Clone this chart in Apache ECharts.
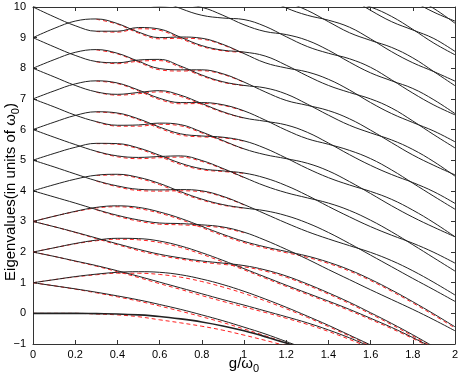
<!DOCTYPE html>
<html>
<head>
<meta charset="utf-8">
<script src="https://cdn.jsdelivr.net/npm/echarts@6/dist/echarts.min.js"></script>
<style>
  html, body { margin: 0; padding: 0; background: #fff; }
  #chart { width: 463px; height: 379px; }
</style>
</head>
<body>
<div id="chart"></div>
<script>
// coupling values g/w0 where the levels were read
var gVals = [0, 0.1, 0.2, 0.3, 0.4, 0.5, 0.6, 0.7, 0.8, 0.9, 1.0, 1.1, 1.2, 1.3, 1.4, 1.5, 1.6, 1.7, 1.8, 1.9, 2.0];

// black solid levels (null = outside the frame)
var ground = [0, 0, 0, -0.01, -0.02, -0.05, -0.10, -0.18, -0.28, -0.41, -0.57, -0.76, -0.97, -1.21, null, null, null, null, null, null, null];
var p0Up = [1, 1.10, 1.20, 1.28, 1.34, 1.36, 1.34, 1.26, 1.12, 0.94, 0.72, 0.47, 0.20, -0.09, -0.39, -0.71, -1.03, null, null, null, null];
var p0Dn = [1, 0.90, 0.80, 0.69, 0.57, 0.44, 0.29, 0.13, -0.05, -0.24, -0.45, -0.67, -0.92, -1.18, null, null, null, null, null, null, null];
var p1Up = [2, 2.14, 2.28, 2.39, 2.45, 2.44, 2.36, 2.20, 1.98, 1.73, 1.46, 1.19, 0.92, 0.66, 0.40, 0.13, -0.16, -0.46, -0.79, -1.14, null];
var p1Dn = [2, 1.86, 1.71, 1.56, 1.39, 1.21, 1.02, 0.83, 0.64, 0.45, 0.27, 0.08, -0.11, -0.31, -0.54, -0.80, -1.09, null, null, null, null];
var p2Up = [3, 3.17, 3.33, 3.46, 3.51, 3.46, 3.31, 3.10, 2.84, 2.58, 2.35, 2.17, 2.02, 1.87, 1.67, 1.42, 1.11, 0.76, 0.38, -0.02, -0.44];
var p2Dn = [3, 2.83, 2.65, 2.46, 2.27, 2.09, 1.93, 1.81, 1.71, 1.64, 1.56, 1.42, 1.22, 0.96, 0.67, 0.36, 0.02, -0.33, -0.70, -1.09, -1.48];
var p3Up = [4, 4.20, 4.38, 4.51, 4.54, 4.44, 4.24, 3.97, 3.73, 3.55, 3.44, 3.35, 3.19, 2.95, 2.64, 2.28, 1.90, 1.52, 1.14, 0.77, 0.39];
var p3Dn = [4, 3.80, 3.60, 3.39, 3.20, 3.05, 2.95, 2.93, 2.89, 2.82, 2.65, 2.39, 2.09, 1.77, 1.43, 1.10, 0.77, 0.45, 0.13, -0.21, -0.57];
var p4Up = [5, 5.22, 5.42, 5.55, 5.54, 5.40, 5.16, 4.90, 4.72, 4.65, 4.58, 4.42, 4.17, 3.85, 3.49, 3.15, 2.83, 2.55, 2.29, 1.99, 1.64];
var p4Dn = [5, 4.78, 4.55, 4.33, 4.16, 4.05, 4.03, 4.04, 4.00, 3.82, 3.55, 3.25, 2.95, 2.67, 2.43, 2.21, 1.99, 1.72, 1.39, 1.01, 0.60];
var p5Up = [6, 6.24, 6.46, 6.58, 6.54, 6.35, 6.08, 5.86, 5.79, 5.75, 5.63, 5.39, 5.07, 4.73, 4.43, 4.19, 3.98, 3.72, 3.37, 2.96, 2.50];
var p5Dn = [6, 5.75, 5.51, 5.29, 5.14, 5.09, 5.12, 5.14, 4.99, 4.73, 4.44, 4.16, 3.94, 3.77, 3.60, 3.36, 3.04, 2.66, 2.24, 1.81, 1.38];
var p6Up = [7, 7.26, 7.49, 7.59, 7.52, 7.29, 7.02, 6.88, 6.88, 6.81, 6.61, 6.31, 5.98, 5.70, 5.52, 5.32, 5.05, 4.68, 4.25, 3.82, 3.40];
var p6Dn = [7, 6.74, 6.47, 6.26, 6.14, 6.15, 6.21, 6.16, 5.92, 5.64, 5.37, 5.18, 5.05, 4.90, 4.65, 4.30, 3.91, 3.51, 3.14, 2.81, 2.50];
var p7Up = [8, 8.28, 8.52, 8.61, 8.49, 8.23, 7.99, 7.95, 7.95, 7.82, 7.55, 7.23, 6.95, 6.79, 6.62, 6.35, 5.98, 5.57, 5.17, 4.83, 4.52];
var p7Dn = [8, 7.72, 7.44, 7.23, 7.15, 7.21, 7.27, 7.12, 6.85, 6.58, 6.38, 6.27, 6.15, 5.91, 5.56, 5.18, 4.83, 4.53, 4.27, 3.97, 3.59];
var p8Up = [9, 9.30, 9.54, 9.61, 9.46, 9.18, 9.00, 9.02, 8.98, 8.78, 8.48, 8.18, 8.01, 7.88, 7.64, 7.29, 6.88, 6.52, 6.23, 5.95, 5.60];
var p8Dn = [9, 8.70, 8.42, 8.22, 8.18, 8.27, 8.29, 8.07, 7.78, 7.56, 7.44, 7.36, 7.16, 6.83, 6.47, 6.14, 5.89, 5.66, 5.35, 4.95, 4.48];
var p9Up = [10, 10.31, 10.56, 10.61, 10.42, 10.14, 10.03, 10.07, 9.99, 9.73, 9.42, 9.20, 9.10, 8.91, 8.59, 8.20, 7.85, 7.59, 7.34, 6.97, 6.52];
var p9Dn = [10, 9.68, 9.39, 9.21, 9.21, 9.33, 9.28, 9.01, 8.74, 8.59, 8.53, 8.40, 8.10, 7.75, 7.44, 7.21, 7.00, 6.70, 6.28, 5.83, 5.40];
var p10Up = [null, null, null, null, null, null, null, null, null, null, 10.39, 10.27, 10.15, 9.89, 9.52, 9.16, 8.91, 8.68, 8.34, 7.89, 7.43];
var p10Dn = [null, null, null, null, null, null, 10.24, 9.95, 9.73, 9.64, 9.59, 9.37, 9.03, 8.71, 8.49, 8.31, 8.03, 7.62, 7.19, 6.80, 6.48];
var p11Up = [null, null, null, null, null, null, null, null, null, null, null, null, null, 10.83, 10.46, 10.20, 10.00, 9.69, 9.27, 8.82, 8.44];
var p11Dn = [null, null, null, null, null, null, null, null, null, null, null, 10.31, 9.97, 9.73, 9.57, 9.34, 8.96, 8.54, 8.18, 7.89, 7.58];
var p12Up = [null, null, null, null, null, null, null, null, null, null, null, null, null, null, null, null, null, 10.64, 10.20, 9.83, 9.54];
var p12Dn = [null, null, null, null, null, null, null, null, null, null, null, null, null, null, 10.63, 10.30, 9.89, 9.52, 9.25, 8.97, 8.55];
var p13Dn = [null, null, null, null, null, null, null, null, null, null, null, null, null, null, null, null, 10.85, 10.58, 10.33, 9.95, 9.47];

// red dashed levels, where they part from the black ones
var rGround = [0, 0, 0, -0.02, -0.05, -0.11, -0.21, -0.31, -0.42, -0.55, -0.71, -0.88, -1.06, null, null, null, null, null, null, null, null];
var rP0Up = [1, 1.10, 1.19, 1.26, 1.31, 1.31, 1.27, 1.18, 1.04, 0.86, 0.65, 0.41, 0.15, -0.13, -0.43, -0.74, -1.06, null, null, null, null];
var rP0Dn = [1, 0.90, 0.79, 0.67, 0.54, 0.40, 0.24, 0.07, -0.11, -0.30, -0.51, -0.73, -0.97, -1.23, null, null, null, null, null, null, null];
var rP1Up = [2, 2.14, 2.27, 2.37, 2.42, 2.40, 2.31, 2.15, 1.93, 1.68, 1.42, 1.15, 0.88, 0.62, 0.36, 0.09, -0.20, -0.50, -0.82, -1.17, null];
var rP1Dn = [2, 1.86, 1.70, 1.54, 1.36, 1.17, 0.97, 0.78, 0.58, 0.39, 0.21, 0.03, -0.16, -0.36, -0.59, -0.85, -1.13, null, null, null, null];
var rP2Up = [3, 3.17, 3.32, 3.44, 3.48, 3.42, 3.27, 3.06, 2.80, 2.54, 2.31, 2.13, 1.98, 1.83, 1.63, 1.38, 1.07, 0.72, 0.34, -0.06, -0.48];
var rP2Dn = [3, 2.83, 2.64, 2.44, 2.24, 2.05, 1.89, 1.77, 1.67, 1.60, 1.52, 1.38, 1.18, 0.92, 0.63, 0.32, -0.02, -0.37, -0.74, -1.13, null];
// red pieces near the knots of the upper levels (g = 0.3 .. 1.0)
var rP3Up = [null, null, null, 4.50, 4.52, 4.41, 4.20, 3.93, 3.70, 3.53, 3.43, null, null, null, null, null, null, null, null, null, null];
var rP3Dn = [null, null, null, 3.38, 3.17, 3.01, 2.91, 2.89, 2.85, 2.79, 2.63, null, null, null, null, null, null, null, null, null, null];
var rP4Up = [null, null, null, 5.54, 5.52, 5.37, 5.12, 4.86, 4.69, 4.63, 4.57, null, null, null, null, null, null, null, null, null, null];
var rP4Dn = [null, null, null, 4.32, 4.13, 4.01, 3.99, 4.00, 3.97, 3.80, 3.54, null, null, null, null, null, null, null, null, null, null];
var rP5Up = [null, null, null, 6.57, 6.52, 6.32, 6.04, 5.82, 5.76, 5.73, 5.62, null, null, null, null, null, null, null, null, null, null];
var rP5Dn = [null, null, null, 5.28, 5.11, 5.05, 5.08, 5.10, 4.96, 4.71, 4.43, null, null, null, null, null, null, null, null, null, null];
var rP6Up = [null, null, null, 7.58, 7.50, 7.26, 6.98, 6.84, 6.85, 6.79, 6.60, null, null, null, null, null, null, null, null, null, null];
var rP6Dn = [null, null, null, 6.25, 6.11, 6.11, 6.17, 6.12, 5.89, 5.62, 5.36, null, null, null, null, null, null, null, null, null, null];
var rP7Up = [null, null, null, 8.60, 8.47, 8.20, 7.95, 7.91, 7.92, 7.80, 7.54, null, null, null, null, null, null, null, null, null, null];
var rP7Dn = [null, null, null, 7.22, 7.12, 7.17, 7.23, 7.08, 6.82, 6.56, 6.37, null, null, null, null, null, null, null, null, null, null];
var rP8Up = [null, null, null, 9.60, 9.44, 9.15, 8.96, 8.98, 8.95, 8.76, 8.47, null, null, null, null, null, null, null, null, null, null];
var rP8Dn = [null, null, null, 8.21, 8.15, 8.23, 8.25, 8.03, 7.75, 7.54, 7.43, null, null, null, null, null, null, null, null, null, null];
var rP9Dn = [null, null, null, 9.20, 9.18, 9.29, 9.24, 8.97, 8.71, 8.57, 8.52, null, null, null, null, null, null, null, null, null, null];

var blackLevels = [ground, p0Up, p0Dn, p1Up, p1Dn, p2Up, p2Dn, p3Up, p3Dn, p4Up, p4Dn, p5Up, p5Dn,
  p6Up, p6Dn, p7Up, p7Dn, p8Up, p8Dn, p9Up, p9Dn, p10Up, p10Dn, p11Up, p11Dn, p12Up, p12Dn, p13Dn];
var redLevels = [rGround, rP0Up, rP0Dn, rP1Up, rP1Dn, rP2Up, rP2Dn, rP3Up, rP3Dn, rP4Up, rP4Dn,
  rP5Up, rP5Dn, rP6Up, rP6Dn, rP7Up, rP7Dn, rP8Up, rP8Dn, rP9Dn];

function toPairs(arr) {
  var out = [];
  for (var i = 0; i < arr.length; i++) {
    if (arr[i] !== null) out.push([gVals[i], arr[i]]);
  }
  return out;
}

var series = [];
redLevels.forEach(function (arr) {
  series.push({
    type: 'line', data: toPairs(arr), smooth: 0.4, symbol: 'none', silent: true,
    lineStyle: { color: '#ff2020', width: 1, type: [4, 3] }
  });
});
blackLevels.forEach(function (arr, i) {
  series.push({
    type: 'line', data: toPairs(arr), smooth: 0.4, symbol: 'none', silent: true,
    lineStyle: { color: '#222', width: i === 0 ? 1.6 : 1 }
  });
});

var axisCol = '#333';
var labelFont = { color: '#000', fontSize: 11, fontFamily: 'Liberation Sans' };
var frameLine = { onZero: false, lineStyle: { color: axisCol } };
var ticks = { inside: true, length: 4, lineStyle: { color: axisCol } };
var titleRich = {
  a: { fontSize: 15, fontFamily: 'Liberation Sans', fill: '#000' },
  s: { fontSize: 11, fontFamily: 'Liberation Sans', fill: '#000', padding: [9, 0, 0, 0] }
};

var chart = echarts.init(document.getElementById('chart'));
chart.setOption({
  animation: false,
  backgroundColor: '#fff',
  grid: { left: 33, right: 8, top: 7, bottom: 35, containLabel: false, outerBoundsMode: 'none' },
  xAxis: [
    {
      type: 'value', min: 0, max: 2, interval: 0.2,
      axisLine: frameLine, axisTick: ticks,
      axisLabel: Object.assign({ margin: 5 }, labelFont),
      splitLine: { show: false }
    },
    {
      type: 'value', min: 0, max: 2, interval: 0.2, position: 'top',
      axisLine: frameLine, axisTick: ticks,
      axisLabel: { show: false }, splitLine: { show: false }
    }
  ],
  yAxis: [
    {
      type: 'value', min: -1, max: 10, interval: 1,
      axisLine: frameLine, axisTick: ticks,
      axisLabel: Object.assign({
        margin: 7,
        formatter: function (v) { return v < 0 ? '\u2212' + (-v) : String(v); }
      }, labelFont),
      splitLine: { show: false }
    },
    {
      type: 'value', min: -1, max: 10, interval: 1, position: 'right',
      axisLine: frameLine, axisTick: ticks,
      axisLabel: { show: false }, splitLine: { show: false }
    }
  ],
  graphic: [
    {
      type: 'text', x: 244, y: 364,
      style: { text: '{a|g/ω}{s|0}', rich: titleRich, align: 'center', verticalAlign: 'middle' }
    },
    {
      type: 'text', x: 11, y: 192, rotation: Math.PI / 2,
      style: { text: '{a|Eigenvalues(in units of ω}{s|0}{a|)}', rich: titleRich, align: 'center', verticalAlign: 'middle' }
    }
  ],
  series: series
});
</script>
</body>
</html>
